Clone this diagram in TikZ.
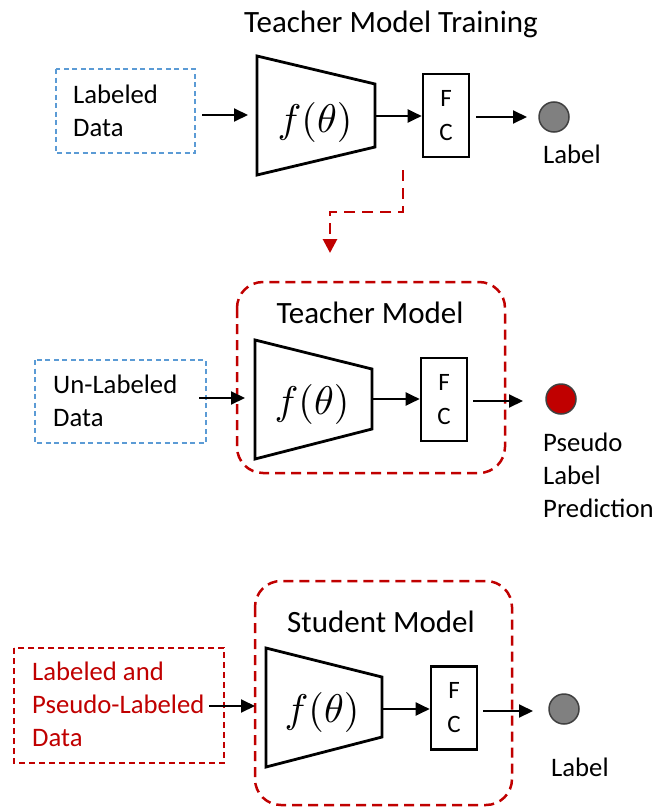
\documentclass[tikz,border=0pt]{standalone}
\usepackage{graphicx}
\usepackage{fontspec}
\setmainfont{Carlito}
\usetikzlibrary{arrows.meta}
\definecolor{dred}{HTML}{C00000}
\definecolor{oblue}{HTML}{5B9BD5}
\definecolor{cgray}{HTML}{808080}
\begin{document}
\begin{tikzpicture}[x=1pt,y=-1pt,
  lbl/.style={font=\fontsize{26.7}{33}\selectfont, align=left, inner sep=0pt, anchor=base west},
  ttl/.style={font=\fontsize{31}{37}\selectfont, inner sep=0pt, anchor=base},
  fcbox/.style={draw, line width=2.6pt, minimum width=46pt, minimum height=83pt, inner sep=0pt, align=center, font=\fontsize{25}{34}\selectfont},
  trapline/.style={draw, line width=2.8pt, line join=miter},
  ftext/.style={inner sep=0pt},
  arr/.style={line width=2pt, -{Triangle[length=14pt,width=13pt]}},
  bluebox/.style={draw=oblue, line width=1.5pt, dash pattern=on 5pt off 3.5pt},
  redinbox/.style={draw=dred, line width=1.6pt, dash pattern=on 6pt off 4pt},
  modelbox/.style={draw=dred, line width=2.5pt, dash pattern=on 10pt off 6pt, rounded corners=26pt},
  redconn/.style={draw=dred, line width=2.8pt, dash pattern=on 11pt off 7pt, -{Triangle[length=14pt,width=14pt]}},
  outcirc/.style={circle, draw=black!75, line width=1.5pt, minimum size=30pt, inner sep=0pt},
]
\useasboundingbox (0,0) rectangle (668,808);

% ---------------- Row 1: Teacher Model Training ----------------
\node[ttl] (title1) at (391,33) {Teacher Model Training};
\draw[bluebox] (56,69) rectangle (195,153);
\node[lbl] (in1) at (73,136) {Labeled\\Data};
\coordinate (in1out) at (202,115);
\draw[trapline] (257,56) -- (375,84) -- (375,147) -- (257,175) -- cycle;
\coordinate (t1in) at (248,115);
\coordinate (t1out) at (375,116);
\node[ftext] (f1) at (315,122) {\scalebox{4}{$f(\theta)$}};
\node[fcbox] (fc1) at (446,115.5) {F\\C};
\node[outcirc, fill=cgray] (c1) at (554,117) {};
\node[lbl] (lab1) at (543,163) {Label};
\draw[arr] (in1out) -- (t1in);
\draw[arr] (t1out) -- (fc1.west |- t1out);
\coordinate (fc1o) at (476,117);
\coordinate (c1i) at (527,117);
\draw[arr] (fc1o) -- (c1i);
\coordinate (r1) at (403,170);
\coordinate (r2) at (330,253);
\draw[redconn] (r1) |- (330,212) -- (r2);

% ---------------- Row 2: Teacher Model ----------------
\draw[modelbox] (237,282) rectangle (505,473);
\node[ttl] (title2) at (370,323) {Teacher Model};
\draw[bluebox] (35,360) rectangle (206,443);
\node[lbl] (in2) at (53,426) {Un-Labeled\\Data};
\coordinate (in2out) at (199,398);
\draw[trapline] (255,340) -- (372,369) -- (372,429) -- (255,459) -- cycle;
\coordinate (t2in) at (245,398);
\coordinate (t2out) at (372,399);
\node[ftext] (f2) at (312,404) {\scalebox{4}{$f(\theta)$}};
\node[fcbox] (fc2) at (444,399.5) {F\\C};
\node[outcirc, fill=dred] (c2) at (561,399) {};
\node[lbl] (lab2) at (543,517) {Pseudo\\Label\\Prediction};
\draw[arr] (in2out) -- (t2in);
\draw[arr] (t2out) -- (fc2.west |- t2out);
\coordinate (fc2o) at (473,401);
\coordinate (c2i) at (523,401);
\draw[arr] (fc2o) -- (c2i);

% ---------------- Row 3: Student Model ----------------
\draw[modelbox] (255,581) rectangle (512,805);
\node[ttl] (title3) at (381,632) {Student Model};
\draw[redinbox] (14,648) rectangle (224,763);
\node[lbl, text=dred] (in3) at (32,746) {Labeled and\\Pseudo-Labeled\\Data};
\coordinate (in3out) at (209,706);
\draw[trapline] (266,648) -- (382,677) -- (382,737) -- (266,767) -- cycle;
\coordinate (t3in) at (255,706);
\coordinate (t3out) at (382,709);
\node[ftext] (f3) at (322,712) {\scalebox{4}{$f(\theta)$}};
\node[fcbox] (fc3) at (454,708) {F\\C};
\node[outcirc, fill=cgray] (c3) at (564,709) {};
\node[lbl] (lab3) at (551,776) {Label};
\draw[arr] (in3out) -- (t3in);
\draw[arr] (t3out) -- (fc3.west |- t3out);
\coordinate (fc3o) at (483,711);
\coordinate (c3i) at (533,711);
\draw[arr] (fc3o) -- (c3i);
\end{tikzpicture}
\end{document}
